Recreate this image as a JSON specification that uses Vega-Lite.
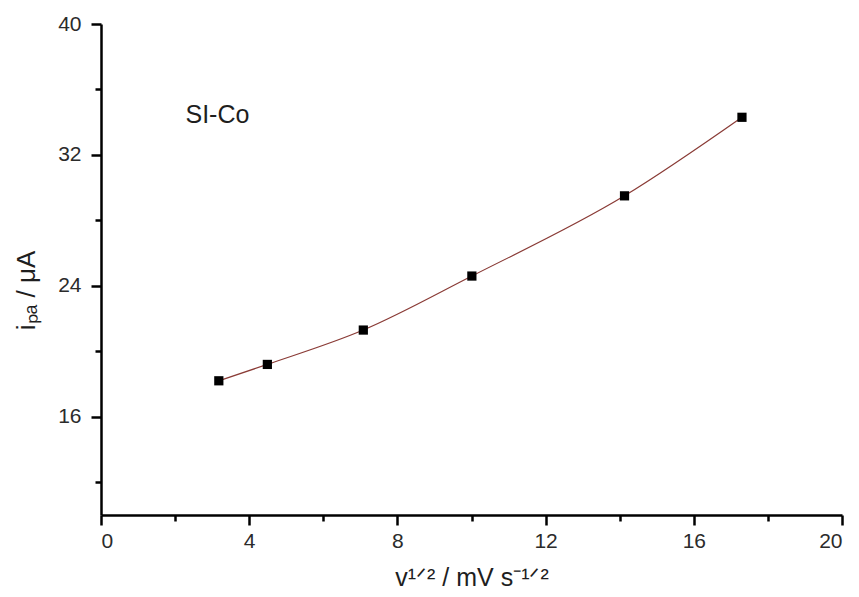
{
  "$schema": "https://vega.github.io/schema/vega-lite/v6.json",
  "autosize": "none",
  "width": 741,
  "height": 491,
  "padding": {"left": 101, "top": 24, "right": 17, "bottom": 82},
  "background": "white",
  "config": {
    "view": {"stroke": null}
  },
  "data": {
    "values": [
      {"v": 3.18, "i": 18.2},
      {"v": 4.49, "i": 19.2},
      {"v": 7.08, "i": 21.3},
      {"v": 10.01, "i": 24.6},
      {"v": 14.13, "i": 29.5},
      {"v": 17.3, "i": 34.3}
    ]
  },
  "resolve": {"axis": {"x": "independent", "y": "independent"}},
  "layer": [
    {
      "mark": {"type": "line", "interpolate": "monotone", "color": "#8a3b36", "strokeWidth": 1.2},
      "encoding": {
        "x": {
          "field": "v", "type": "quantitative",
          "scale": {"domain": [0, 20], "nice": false, "zero": false},
          "axis": {
            "orient": "bottom", "grid": false,
            "values": [0, 4, 8, 12, 16, 20], "tickSize": 10, "tickWidth": 2.5, "tickColor": "#000000",
            "domainWidth": 2.5, "domainColor": "#000000",
            "labelFont": "Liberation Sans", "labelFontSize": 21, "labelColor": "#2b2b2b", "labelPadding": 5,
            "title": "v¹ᐟ² / mV s⁻¹ᐟ²", "titleFont": "Liberation Sans", "titleFontSize": 25,
            "titleFontWeight": "normal", "titleColor": "#1e1e1e", "titlePadding": 14
          }
        },
        "y": {
          "field": "i", "type": "quantitative",
          "scale": {"domain": [10, 40], "nice": false, "zero": false},
          "axis": {
            "orient": "left", "grid": false,
            "values": [16, 24, 32, 40], "tickSize": 10, "tickWidth": 2.5, "tickColor": "#000000",
            "domainWidth": 2.5, "domainColor": "#000000",
            "labelFont": "Liberation Sans", "labelFontSize": 21, "labelColor": "#2b2b2b", "labelPadding": 10,
            "title": "iₚₐ / μA", "titleFont": "Liberation Sans", "titleFontSize": 26,
            "titleFontWeight": "normal", "titleColor": "#1e1e1e", "titlePadding": 18, "titleY": 266
          }
        }
      }
    },
    {
      "mark": {"type": "square", "size": 85, "color": "#000000", "opacity": 1},
      "encoding": {
        "x": {
          "field": "v", "type": "quantitative",
          "axis": {"orient": "bottom", "grid": false, "values": [2, 6, 10, 14, 18], "tickSize": 6, "tickWidth": 2.5, "tickColor": "#000000", "labels": false, "domain": false, "title": null}
        },
        "y": {
          "field": "i", "type": "quantitative",
          "axis": {"orient": "left", "grid": false, "values": [12, 20, 28, 36], "tickSize": 6, "tickWidth": 2.5, "tickColor": "#000000", "labels": false, "domain": false, "title": null}
        }
      }
    },
    {
      "data": {"values": [{"v": 2.28, "i": 34.44, "label": "SI-Co"}]},
      "mark": {"type": "text", "align": "left", "baseline": "middle", "font": "Liberation Sans", "fontSize": 25, "color": "#1e1e1e"},
      "encoding": {
        "x": {"field": "v", "type": "quantitative", "axis": null},
        "y": {"field": "i", "type": "quantitative", "axis": null},
        "text": {"field": "label"}
      }
    }
  ]
}
